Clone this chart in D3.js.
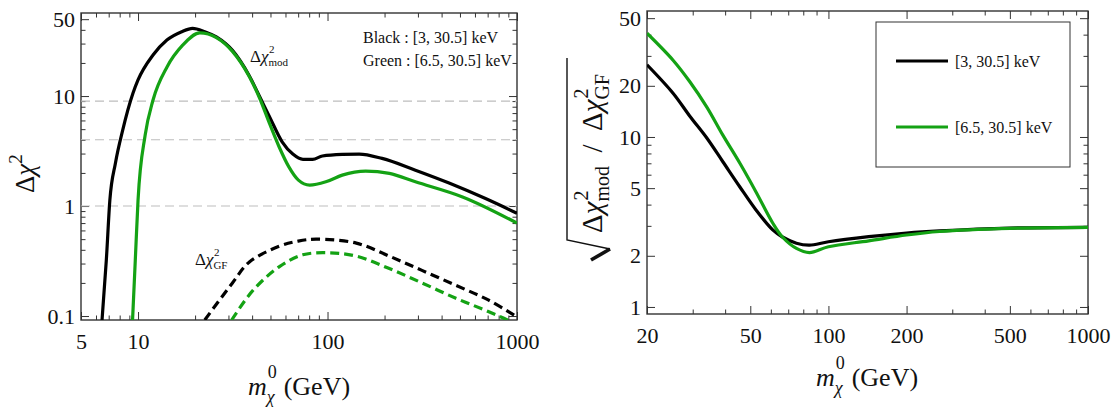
<!DOCTYPE html>
<html><head><meta charset="utf-8">
<script src="https://cdn.jsdelivr.net/npm/d3@7"></script>
<style>
body{margin:0;background:#fff}
svg{display:block}
text{font-family:"Liberation Serif","Times New Roman",serif;fill:#111}
</style>
</head><body>
<svg id="c" width="1118" height="410"></svg>
<script>
// ---------- data ----------
// Left panel: Δχ² vs m (GeV)
const massBlackMod = [6.45, 6.8, 7.1, 7.6, 8.3, 9.4, 10.0, 12.0, 14.2, 17.0, 19.4, 22.5, 25.9, 31.5, 38.7, 43.8, 49.4, 57.6, 65.6, 74.2, 83.4, 94, 119.6, 147, 194, 291, 438, 682, 1000];
const chi2BlackMod = [0.09, 0.32, 1.13, 2.46, 4.9, 10.6, 14.0, 23.6, 32.3, 38.5, 41.3, 38.5, 34.5, 26.0, 15.2, 9.9, 6.5, 3.84, 2.97, 2.66, 2.66, 2.85, 2.95, 2.97, 2.71, 2.12, 1.62, 1.17, 0.86];
const massGreenMod = [9.35, 9.67, 10.0, 10.9, 12.0, 14.2, 17.2, 21.2, 25.9, 31.5, 38.7, 43.8, 49.4, 55.5, 62.4, 70.2, 80.5, 98, 119.6, 159, 212, 291, 516, 1000];
const chi2GreenMod = [0.09, 0.32, 1.13, 4.4, 9.2, 18.3, 29, 37.5, 34, 25.5, 15, 9.6, 5.64, 3.46, 2.28, 1.72, 1.55, 1.66, 1.91, 2.08, 1.98, 1.66, 1.21, 0.70];
const massBlackGF = [22.5, 31.5, 38.7, 55.5, 70, 87, 142, 212, 315, 476, 705, 1000];
const chi2BlackGF = [0.092, 0.2, 0.31, 0.43, 0.48, 0.50, 0.46, 0.35, 0.26, 0.19, 0.14, 0.098];
const massGreenGF = [31.2, 40.3, 55.5, 74, 102, 142, 212, 315, 476, 705, 890, 1000];
const chi2GreenGF = [0.092, 0.17, 0.28, 0.36, 0.376, 0.35, 0.27, 0.2, 0.145, 0.11, 0.092, 0.083];
const guideLevels = [9, 4, 1];

// Right panel: sqrt ratio vs m
const massRatio = [20, 25.2, 29.2, 34, 39.2, 45.6, 52.6, 61, 66.5, 75.3, 84.5, 100, 143, 200, 268, 500, 1000];
const ratioBlack = [26.6, 18.1, 13.3, 9.86, 7.15, 5.08, 3.72, 2.84, 2.58, 2.37, 2.31, 2.42, 2.59, 2.72, 2.8, 2.91, 2.94];
const ratioGreen = [40.8, 28.3, 21.2, 15.0, 10.25, 7.0, 4.75, 3.12, 2.58, 2.21, 2.09, 2.26, 2.45, 2.65, 2.78, 2.9, 2.94];

// ticks
const leftXMajor = [5, 10, 100, 1000];
const leftXMinor = [6,7,8,9,20,30,40,50,60,70,80,90,200,300,400,500,600,700,800,900];
const leftYMajor = [0.1, 1, 10, 50];
const leftYMinor = [0.2,0.3,0.4,0.5,0.6,0.7,0.8,0.9,2,3,4,5,6,7,8,9,20,30,40];
const rightXMajor = [20, 50, 100, 200, 500, 1000];
const rightXMinor = [30,40,60,70,80,90,300,400,600,700,800,900];
const rightYMajor = [1, 2, 5, 10, 20, 50];
const rightYMinor = [3,4,6,7,8,9,30,40];
const legendLabels = ["[3, 30.5] keV", "[6.5, 30.5] keV"];
const noteLabels = ["Black : [3, 30.5] keV", "Green : [6.5, 30.5] keV"];

// ---------- drawing ----------
const BLACK = "#000", GREEN = "#14a214", FRAME = "#333";
const svg = d3.select("#c");
svg.append("rect").attr("width",1118).attr("height",410).attr("fill","#fff");

const fmt = d => String(d);

function panel(id, L, T, R, B, xDom, yDom, xMaj, xMin, yMaj, yMin) {
  const x = d3.scaleLog().domain(xDom).range([L, R]);
  const y = d3.scaleLog().domain(yDom).range([B, T]);
  const g = svg.append("g");
  svg.append("clipPath").attr("id", id).append("rect")
    .attr("x", L).attr("y", T).attr("width", R - L).attr("height", B - T);
  const axes = [
    [d3.axisBottom(x), B, 0, xMaj, xMin, true],
    [d3.axisTop(x), T, 0, xMaj, xMin, false],
    [d3.axisLeft(y), L, 1, yMaj, yMin, true],
    [d3.axisRight(y), R, 1, yMaj, yMin, false]
  ];
  for (const [ax, pos, vert, maj, min, lab] of axes) {
    const tr = vert ? `translate(${pos},0)` : `translate(0,${pos})`;
    const gMin = g.append("g").attr("transform", tr)
      .call(ax.tickValues(min).tickSize(-4.5).tickFormat(""));
    gMin.select(".domain").remove();
    const gMaj = g.append("g").attr("transform", tr)
      .call(ax.tickValues(maj).tickSize(-8).tickPadding(vert ? 6 : 8).tickFormat(lab ? fmt : ""));
    gMaj.select(".domain").remove();
    g.selectAll("line").attr("stroke", FRAME).attr("stroke-width", 1);
    gMaj.selectAll("text").attr("font-size", 22).attr("font-family", "Liberation Serif").attr("fill", "#111");
    if (!vert) gMaj.selectAll("text").attr("dy", "0.95em");
  }
  g.append("rect").attr("x", L).attr("y", T).attr("width", R - L).attr("height", B - T)
    .attr("fill", "none").attr("stroke", FRAME).attr("stroke-width", 1.4);
  const plot = svg.append("g").attr("clip-path", `url(#${id})`);
  return {x, y, plot, g};
}

function curve(p, xs, ys, color, dashed, smooth) {
  const line = d3.line().x(d => p.x(d[0])).y(d => p.y(d[1]))
    .curve(smooth ? d3.curveCatmullRom.alpha(0.5) : d3.curveMonotoneX);
  p.plot.append("path").datum(d3.zip(xs, ys)).attr("d", line)
    .attr("fill", "none").attr("stroke", color).attr("stroke-width", 3.2)
    .attr("stroke-linejoin", "round")
    .attr("stroke-dasharray", dashed ? "9,5" : null);
}

// measure helper
function textWidth(str, size, italic) {
  const t = svg.append("text").attr("font-size", size).attr("font-style", italic ? "italic" : null).text(str);
  const w = t.node().getComputedTextLength();
  t.remove();
  return w;
}

// ----- left panel -----
const P1 = panel("clipL", 81, 13, 517, 320, [5, 1000], [0.092, 56.9],
  leftXMajor, leftXMinor, leftYMajor, leftYMinor);
guideLevels.forEach(v => {
  P1.plot.append("line").attr("x1", 81).attr("x2", 517).attr("y1", P1.y(v)).attr("y2", P1.y(v))
    .attr("stroke", "#bdbdbd").attr("stroke-width", 1.1).attr("stroke-dasharray", "9,5");
});
curve(P1, massBlackMod, chi2BlackMod, BLACK, false, false);
curve(P1, massGreenMod, chi2GreenMod, GREEN, false, false);
curve(P1, massBlackGF, chi2BlackGF, BLACK, true, true);
curve(P1, massGreenGF, chi2GreenGF, GREEN, true, true);

// Δχ with stacked sup "2" and subscript, as one text element
function dchi(x, y, size, sub, subSize) {
  const t = svg.append("text").attr("x", x).attr("y", y);
  t.append("tspan").attr("font-size", size).text("Δ");
  t.append("tspan").attr("font-size", size).attr("font-style", "italic").text("χ");
  const w2 = textWidth("2", subSize);
  t.append("tspan").attr("font-size", subSize).attr("dx", 0.5).attr("dy", -9.5).text("2");
  t.append("tspan").attr("font-size", subSize).attr("dx", -w2 - 0.5).attr("dy", 13).text(sub);
}
dchi(250, 62, 17, "mod", 11);
dchi(195, 265, 17, "GF", 11);

noteLabels.forEach((s, i) => {
  svg.append("text").attr("x", 363).attr("y", 43 + i * 23).attr("font-size", 16).text(s);
});

// left y label
const yl = svg.append("g").attr("transform", "translate(34,193) rotate(-90)");
const ylt = yl.append("text").attr("x", 0).attr("y", 0).attr("font-size", 27);
ylt.append("tspan").text("Δ");
ylt.append("tspan").attr("font-style", "italic").text("χ");
ylt.append("tspan").attr("font-size", 19).attr("dy", -12).text("2");

// x labels (one text element)
function xLabel(cx, y) {
  const mw = textWidth("m", 26, true);
  const sw0 = textWidth("0", 18), swc = textWidth("χ", 18, true);
  const rw = textWidth("(GeV)", 26);
  const total = mw + 1 + Math.max(sw0, swc) + 7 + rw;
  const x0 = cx - total / 2;
  const t = svg.append("text").attr("x", x0).attr("y", y);
  t.append("tspan").attr("font-size", 26).attr("font-style", "italic").text("m");
  t.append("tspan").attr("font-size", 18).attr("dx", 1).attr("dy", -17).text("0");
  t.append("tspan").attr("font-size", 18).attr("font-style", "italic").attr("dx", -sw0 - 1).attr("dy", 25).text("χ");
  t.append("tspan").attr("font-size", 26).attr("x", x0 + mw + 1 + Math.max(sw0, swc) + 7).attr("dy", -8).text("(GeV)");
}
xLabel(299, 395);

// ----- right panel -----
const P2 = panel("clipR", 647, 11, 1088, 314, [20, 1000], [0.909, 55.1],
  rightXMajor, rightXMinor, rightYMajor, rightYMinor);
curve(P2, massRatio, ratioBlack, BLACK, false, true);
curve(P2, massRatio, ratioGreen, GREEN, false, true);
xLabel(867, 386);

// legend
svg.append("rect").attr("x", 876).attr("y", 22).attr("width", 194).attr("height", 145)
  .attr("fill", "#fff").attr("stroke", FRAME).attr("stroke-width", 1);
[BLACK, GREEN].forEach((c, i) => {
  const yy = 61 + i * 66;
  svg.append("line").attr("x1", 896).attr("x2", 948).attr("y1", yy).attr("y2", yy)
    .attr("stroke", c).attr("stroke-width", 3.2);
  svg.append("text").attr("x", 955).attr("y", yy + 5.5).attr("font-size", 16).text(legendLabels[i]);
});

// right y label with radical (single text element)
{
  const big = 29, small = 20;
  const wD = textWidth("Δ", big), wC = textWidth("χ", big, true);
  const w2 = textWidth("2", small), wMod = textWidth("mod", small), wGF = textWidth("GF", small);
  const wSl = textWidth("/", big);
  const base = 2 * (wD + wC) + wMod + wGF + wSl + 1;
  const gap = Math.max(4, (160 - base) / 2);
  const rg = svg.append("g").attr("transform", "translate(602,233) rotate(-90)");
  const t = rg.append("text").attr("x", 0).attr("y", 0);
  t.append("tspan").attr("font-size", big).text("Δ");
  t.append("tspan").attr("font-size", big).attr("font-style", "italic").text("χ");
  t.append("tspan").attr("font-size", small).attr("dx", 1).attr("dy", -14).text("2");
  t.append("tspan").attr("font-size", small).attr("dx", -w2 - 1).attr("dy", 21).text("mod");
  t.append("tspan").attr("font-size", big).attr("dx", gap).attr("dy", -7).text("/");
  t.append("tspan").attr("font-size", big).attr("dx", gap).text("Δ");
  t.append("tspan").attr("font-size", big).attr("font-style", "italic").text("χ");
  t.append("tspan").attr("font-size", small).attr("dx", 1).attr("dy", -14).text("2");
  t.append("tspan").attr("font-size", small).attr("dx", -w2 - 1).attr("dy", 21).text("GF");
}
svg.append("path").attr("d", "M567,58 L567,240 L610,249").attr("fill", "none")
  .attr("stroke", "#111").attr("stroke-width", 1.4);
svg.append("path").attr("d", "M610,249 L591,260").attr("fill", "none")
  .attr("stroke", "#111").attr("stroke-width", 3.6).attr("stroke-linecap", "butt");
</script>
</body></html>
